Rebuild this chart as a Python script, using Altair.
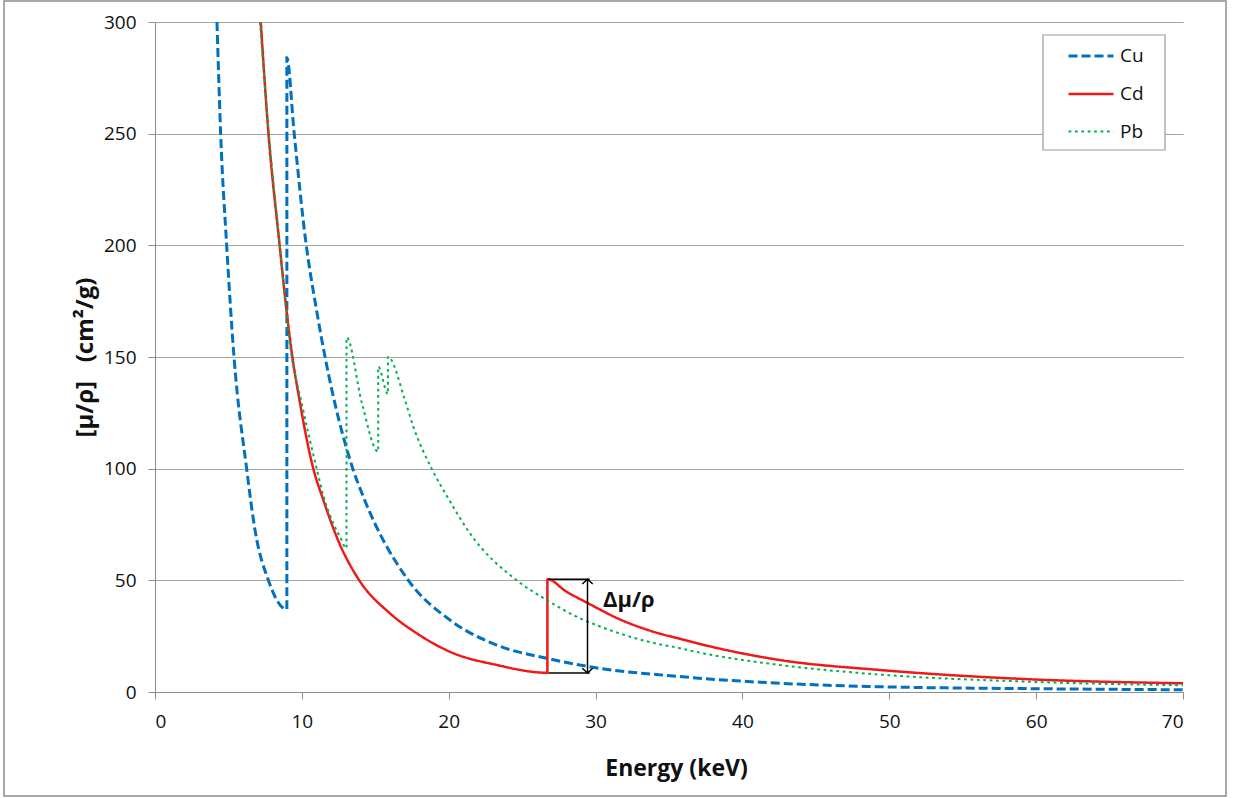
import altair as alt
import pandas as pd

# ---- data ----
cu_energy = [4.22, 4.47, 4.88, 5.38, 6.24, 6.81, 7.72, 8.979, 8.98, 9.47, 10.28, 10.96, 11.58,
             13.47, 14.18, 17.25, 20.09, 23.27, 26.67, 29.6, 35.75, 42.56, 49.1, 59.6, 70.0]
cu_mu = [300, 250, 200, 150, 100, 72.5, 50, 37, 284, 250.6, 201, 172.5, 150,
         100, 87.5, 50, 32.2, 21, 15.1, 11.3, 6.9, 3.9, 2.4, 1.5, 1.0]

cd_energy = [7.2, 7.72, 8.47, 8.92, 9.27, 9.87, 10.78, 11.46, 12.5, 13.91, 16.0, 17.82, 20.09,
             23.27, 26.719, 26.72, 28.0, 29.5, 31.66, 33.93, 35.75, 37.11, 42.56, 49.37, 59.58, 70.0]
cd_mu = [300, 250.6, 201, 173, 154, 129.5, 100, 86, 67.4, 50, 35.2, 26.3, 18,
         12.1, 8.6, 50.5, 45.0, 39.7, 32.5, 27.0, 23.8, 21.5, 14.3, 9.85, 5.7, 3.9]

pb_energy = [7.15, 7.75, 8.5, 9.2, 10.0, 11.01, 11.46, 12.14, 12.6, 13.039, 13.04, 14.1, 15.199, 15.2,
             15.859, 15.86, 17.02, 17.59, 18.84, 19.97, 21.45, 24.63, 26.67, 28.94, 29.4, 33.93,
             35.75, 37.11, 42.56, 49.37, 59.58, 70.0]
pb_mu = [300, 250, 200, 155, 129, 100, 88, 75.5, 69.5, 64.3, 158.8, 129, 107.6, 145.7,
         133.4, 150.1, 130.7, 118.8, 100, 86.7, 71, 50, 41.2, 33, 31.7, 22.0,
         19.6, 17.6, 12.1, 7.8, 4.6, 3.0]

series_names = ["Cu", "Cd", "Pb"]
series_colors = ["#0070C0", "#F01818", "#00B050"]
series_dash = [[9, 4], [1, 0], [2.8, 3.6]]
series_width = [3, 2, 3]

x_ticks = [0, 10, 20, 30, 40, 50, 60, 70]
y_ticks = [0, 50, 100, 150, 200, 250, 300]

# annotation (delta mu / rho at the Cd K edge)
ann_x_left = 26.8
ann_x_right = 29.6
ann_arrow_x = 29.45
ann_top = 50.5
ann_bottom = 8.5
ann_text = "Δμ/ρ"
ann_text_x = 30.5
ann_text_y = 38.2

rows = []
for name, es, vs in [("Cu", cu_energy, cu_mu), ("Cd", cd_energy, cd_mu), ("Pb", pb_energy, pb_mu)]:
    for i, (e, v) in enumerate(zip(es, vs)):
        rows.append({"element": name, "energy": e, "mu": v, "idx": i})
df = pd.DataFrame(rows)

FONT = "Open Sans"

xscale = alt.Scale(domain=[0, 70], nice=False)
yscale = alt.Scale(domain=[0, 300], nice=False)

x_enc = alt.X("energy:Q", scale=xscale,
              axis=alt.Axis(values=x_ticks, title="Energy (keV)", grid=False,
                            titleFontWeight="bold", titleFontSize=23, titleFont=FONT,
                            titleX=521, titleY=76, titleBaseline="middle",
                            labelFontSize=19, labelFont=FONT, labelColor="#111",
                            labelPadding=13, tickSize=7, tickColor="#8c8c8c",
                            domainColor="#8c8c8c", titleColor="#111"))
y_enc = alt.Y("mu:Q", scale=yscale,
              axis=alt.Axis(values=y_ticks, title="[μ/ρ]\u00a0\u00a0\u00a0(cm²/g)", grid=True,
                            gridColor="#a6a6a6", gridWidth=1,
                            titleFontWeight="bold", titleFontSize=24, titleFont=FONT,
                            titleX=-58, titleY=335, titleColor="#111",
                            labelFontSize=19, labelFont=FONT, labelColor="#111",
                            labelPadding=12, tickSize=7, tickColor="#8c8c8c",
                            domainColor="#8c8c8c"))

one = alt.Data(values=[{"a": 1}])

frame = alt.Chart(one).mark_rect(fill="transparent", stroke="#8c8c8c", strokeWidth=1.5).encode(
    x=alt.value(-151), x2=alt.value(1071), y=alt.value(-21), y2=alt.value(774))

legend_box = alt.Chart(one).mark_rect(fill="white", stroke="#9a9a9a", strokeWidth=1.2).encode(
    x=alt.value(888), x2=alt.value(1010), y=alt.value(13), y2=alt.value(128))

lines = alt.Chart(df).mark_line(clip=True, interpolate="monotone").encode(
    x=x_enc,
    y=y_enc,
    order="idx:Q",
    color=alt.Color("element:N", scale=alt.Scale(domain=series_names, range=series_colors),
                    sort=series_names,
                    legend=alt.Legend(title=None, orient="none", legendX=912, legendY=10,
                                      symbolType="stroke", symbolSize=2025,
                                      labelFontSize=19, labelFont=FONT, labelColor="#111",
                                      labelOffset=5, rowPadding=4, padding=0)),
    strokeDash=alt.StrokeDash("element:N", scale=alt.Scale(domain=series_names, range=series_dash),
                              sort=series_names, legend=None),
    strokeWidth=alt.StrokeWidth("element:N", scale=alt.Scale(domain=series_names, range=series_width),
                                sort=series_names, legend=None),
)

ann_h = pd.DataFrame({"x1": [ann_x_left, ann_x_left], "x2": [ann_x_right, ann_x_right],
                      "y": [ann_top, ann_bottom]})
h_rules = alt.Chart(ann_h).mark_rule(color="black", strokeWidth=1.5).encode(
    x=alt.X("x1:Q", scale=xscale), x2="x2:Q", y=alt.Y("y:Q", scale=yscale))

ann_v = pd.DataFrame({"x": [ann_arrow_x], "y1": [ann_top], "y2": [ann_bottom]})
v_rule = alt.Chart(ann_v).mark_rule(color="black", strokeWidth=1.5).encode(
    x=alt.X("x:Q", scale=xscale), y=alt.Y("y1:Q", scale=yscale), y2="y2:Q")

head_up = alt.Chart(pd.DataFrame({"x": [ann_arrow_x], "y": [ann_top]})).mark_point(
    shape="M-1,0.9L0,0L1,0.9", filled=False, stroke="black", strokeWidth=1.5, size=110, opacity=1).encode(
    x=alt.X("x:Q", scale=xscale), y=alt.Y("y:Q", scale=yscale))
head_down = alt.Chart(pd.DataFrame({"x": [ann_arrow_x], "y": [ann_bottom]})).mark_point(
    shape="M-1,-0.9L0,0L1,-0.9", filled=False, stroke="black", strokeWidth=1.5, size=110, opacity=1).encode(
    x=alt.X("x:Q", scale=xscale), y=alt.Y("y:Q", scale=yscale))

ann_label = alt.Chart(pd.DataFrame({"x": [ann_text_x], "y": [ann_text_y], "t": [ann_text]})).mark_text(
    align="left", baseline="alphabetic", fontSize=22, fontWeight="bold", font=FONT, color="#111").encode(
    x=alt.X("x:Q", scale=xscale), y=alt.Y("y:Q", scale=yscale), text="t:N")

chart = alt.layer(frame, legend_box, lines, h_rules, v_rule, head_up, head_down, ann_label).properties(
    width=1028, height=670,
    padding={"left": 155, "top": 22, "right": 60, "bottom": 106},
    autosize=alt.AutoSizeParams(type="none"),
    background="white",
).configure_view(stroke=None).configure_axis(zindex=0)

chart.save("out.html", embed_options={"renderer": "svg", "actions": False})
